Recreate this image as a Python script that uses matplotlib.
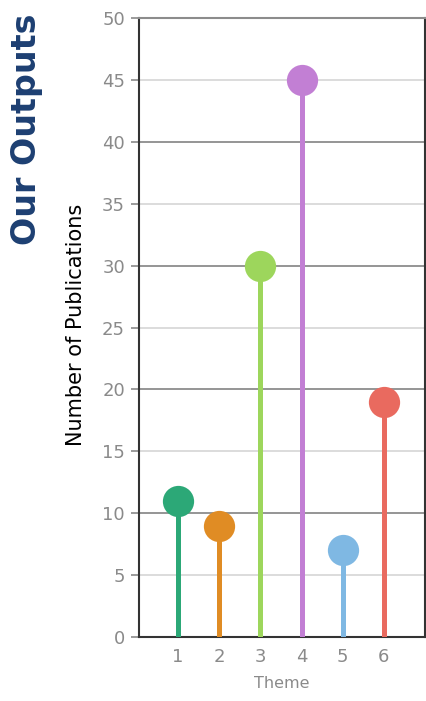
import numpy as np
import matplotlib
matplotlib.use("Agg")
import matplotlib.pyplot as plt

themes = [1, 2, 3, 4, 5, 6]
publications = [11, 9, 30, 45, 7, 19]
colors = ["#2ca877", "#e08c24", "#9dd65c", "#c27fd4", "#7fb8e3", "#e96a5f"]

plt.rcParams["font.family"] = ["DejaVu Sans"]

fig = plt.figure(figsize=(4.27, 7.01), dpi=100)
ax = fig.add_axes([0.3255, 0.0913, 0.6698, 0.883])

for x, y, c in zip(themes, publications, colors):
    ax.plot([x, x], [0, y], color=c, lw=3.6, solid_capstyle="butt", zorder=3)
    ax.plot(x, y, "o", color=c, ms=22.5, mec="none", zorder=4)

ax.set_xlim(0.05, 7.0)
ax.set_ylim(0, 50)
ax.set_xticks(themes)
ax.set_yticks(np.arange(0, 51, 5))

# darker lines every 10, faint ones in between
for v in range(5, 50, 5):
    ax.axhline(v, color="#8c8c8c" if v % 10 == 0 else "#d9d9d9", lw=1.3, zorder=1)

ax.tick_params(axis="y", colors="#8a8a8a", labelsize=13, length=6, width=1.2, pad=4)
ax.tick_params(axis="x", colors="#8a8a8a", labelsize=13, length=0, pad=8)
for lab in ax.get_yticklabels() + ax.get_xticklabels():
    lab.set_color("#8a8a8a")

for side in ["left", "bottom", "right"]:
    ax.spines[side].set_color("#333333")
    ax.spines[side].set_linewidth(1.5)
ax.spines["top"].set_color("#8c8c8c")
ax.spines["top"].set_linewidth(1.5)

ax.set_xlabel("Theme", color="#8a8a8a", fontsize=11.5, labelpad=7)
ax.set_ylabel("Number of Publications", color="black", fontsize=15)
ax.yaxis.set_label_coords(-0.185, 0.505)

fig.text(0.063, 0.815, "Our Outputs", rotation=90, ha="center", va="center",
         fontsize=24, fontweight="bold", color="#1d3f72")

fig.savefig("out.png", dpi=100)
